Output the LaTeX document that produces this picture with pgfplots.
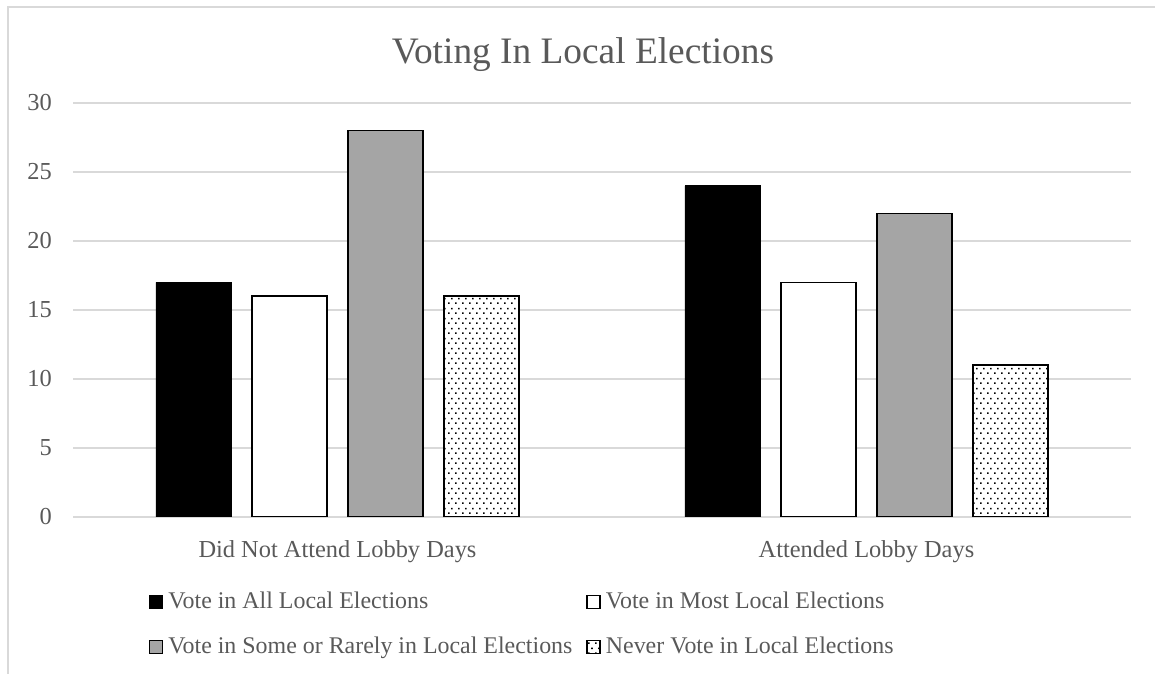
\documentclass[border=0pt]{standalone}
\usepackage{fontspec}
\setmainfont{Liberation Serif}
\usepackage{pgfplots}
\pgfplotsset{compat=1.18}
\usetikzlibrary{patterns.meta}
\definecolor{txtgray}{HTML}{595959}
\definecolor{gridgray}{HTML}{D9D9D9}
\definecolor{bargray}{HTML}{A5A5A5}
\pgfdeclarepattern{
  name=mydots, type=uncolored,
  bottom left={\pgfpoint{0bp}{0bp}},
  top right={\pgfpoint{7bp}{10bp}},
  tile size={\pgfpoint{7bp}{10bp}},
  code={
    \pgfpathrectangle{\pgfpoint{0bp}{0bp}}{\pgfpoint{1.8bp}{1.8bp}}
    \pgfpathrectangle{\pgfpoint{3.5bp}{5bp}}{\pgfpoint{1.8bp}{1.8bp}}
    \pgfusepath{fill}
  }
}
\begin{document}
\begin{tikzpicture}
\useasboundingbox (0,0) rectangle (1155bp,674bp);
\draw[gridgray, line width=1.5bp] (8bp,-2bp) -- (8bp,667bp) -- (1160bp,667bp);
\begin{axis}[
  at={(73bp,157bp)}, anchor=south west,
  scale only axis, width=1058bp, height=414bp,
  xmin=-0.5, xmax=1.5, ymin=0, ymax=30,
  ybar, bar width=75bp,
  axis line style={draw=none},
  major tick length=0pt,
  ytick={0,5,10,15,20,25,30},
  xtick={0,1},
  xticklabels={Did Not Attend Lobby Days, Attended Lobby Days},
  ymajorgrids, grid style={gridgray, line width=1.3bp},
  /pgf/number format/assume math mode=true,
  tick label style={font=\fontsize{24.5}{28}\selectfont, text=txtgray, inner sep=0pt},
  yticklabel style={anchor=east, xshift=-21bp},
  xticklabel style={anchor=base, yshift=-40bp},
  every axis title shift=0pt,
  title={Voting In Local Elections},
  title style={at={(rel axis cs:0.482,1.0966)}, anchor=base, font=\fontsize{37.5}{42}\selectfont, text=txtgray, inner sep=0pt},
  legend columns=2,
  legend style={at={(rel axis cs:0.0718,-0.1787)}, anchor=north west, draw=none, fill=none,
    inner sep=0pt, outer sep=0pt, font=\fontsize{24}{28}\selectfont, text=txtgray,
    row sep=21bp,
    nodes={inner sep=0pt, text height=18bp, text depth=6bp},
    cells={anchor=base west},
    /tikz/every odd column/.append style={column sep=5bp},
    /tikz/every even column/.append style={column sep=14bp}},
  legend image code/.code={\draw[#1] (0bp,0.5bp) rectangle (13bp,13.5bp);},
]
\addplot[bar shift=-144bp, fill=black, draw=black, line width=0.8bp] coordinates {(0,17) (1,24)};
\addplot[bar shift=-48bp, fill=white, draw=black, line width=1.5bp] coordinates {(0,16) (1,17)};
\addplot[bar shift=48bp, fill=bargray, draw=black, line width=1.5bp] coordinates {(0,28) (1,22)};
\addplot[bar shift=144bp, fill=white, draw=black, line width=1.5bp, postaction={pattern=mydots, pattern color=black}] coordinates {(0,16) (1,11)};
\legend{Vote in All Local Elections, Vote in Most Local Elections, Vote in Some or Rarely in Local Elections, Never Vote in Local Elections}
\end{axis}
\end{tikzpicture}
\end{document}
